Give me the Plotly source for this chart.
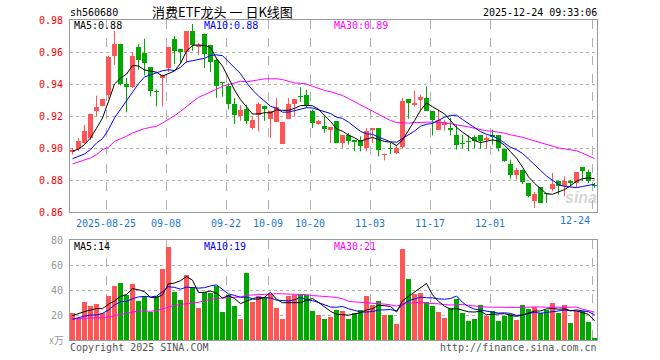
import plotly.graph_objects as go

# ---------------- data ----------------
opens = [0.8975, 0.8996, 0.9033, 0.9063, 0.9233, 0.9260, 0.9333, 0.9577, 0.9652, 0.9400,
         0.9381, 0.9629, 0.9594, 0.9504, 0.9358, 0.9438, 0.9500, 0.9683, 0.9619, 0.9598,
         0.9729, 0.9631, 0.9715, 0.9646, 0.9548, 0.9410, 0.9385, 0.9275, 0.9198, 0.9246,
         0.9125, 0.9208, 0.9265, 0.9183, 0.9163, 0.9027, 0.9183, 0.9275, 0.9325, 0.9333,
         0.9229, 0.9150, 0.9135, 0.9110, 0.9167, 0.9031, 0.9083, 0.9048, 0.9048, 0.9000,
         0.9115, 0.9125, 0.8954, 0.9000, 0.8969, 0.9004, 0.9306, 0.9267, 0.9302, 0.9313,
         0.9229, 0.9115, 0.9142, 0.9125, 0.9083, 0.9031, 0.9046, 0.9067, 0.9079, 0.9052,
         0.9079, 0.9079, 0.8996, 0.8900, 0.8833, 0.8865, 0.8781, 0.8667, 0.8754, 0.8717,
         0.8746, 0.8796, 0.8760, 0.8796, 0.8781, 0.8881, 0.8850, 0.8771]
highs = [0.9000, 0.9063, 0.9146, 0.9215, 0.9327, 0.9308, 0.9577, 0.9733, 0.9652, 0.9438,
         0.9600, 0.9650, 0.9683, 0.9504, 0.9365, 0.9458, 0.9633, 0.9700, 0.9619, 0.9729,
         0.9775, 0.9656, 0.9715, 0.9646, 0.9563, 0.9410, 0.9406, 0.9313, 0.9267, 0.9271,
         0.9198, 0.9285, 0.9265, 0.9233, 0.9313, 0.9163, 0.9313, 0.9308, 0.9379, 0.9365,
         0.9240, 0.9177, 0.9198, 0.9129, 0.9167, 0.9079, 0.9094, 0.9048, 0.9073, 0.9125,
         0.9125, 0.9125, 0.8965, 0.9031, 0.9021, 0.9313, 0.9306, 0.9358, 0.9333, 0.9385,
         0.9229, 0.9240, 0.9177, 0.9188, 0.9146, 0.9083, 0.9079, 0.9079, 0.9079, 0.9079,
         0.9115, 0.9079, 0.8996, 0.8927, 0.8875, 0.8865, 0.8781, 0.8725, 0.8754, 0.8717,
         0.8844, 0.8796, 0.8823, 0.8802, 0.8850, 0.8881, 0.8865, 0.8781]
lows = [0.8960, 0.8980, 0.9025, 0.9050, 0.9198, 0.9260, 0.9310, 0.9520, 0.9390, 0.9223,
        0.9375, 0.9490, 0.9454, 0.9323, 0.9260, 0.9260, 0.9475, 0.9525, 0.9525, 0.9531,
        0.9608, 0.9580, 0.9500, 0.9475, 0.9313, 0.9320, 0.9240, 0.9150, 0.9170, 0.9150,
        0.9115, 0.9104, 0.9170, 0.9063, 0.9163, 0.9025, 0.9183, 0.9200, 0.9288, 0.9250,
        0.9125, 0.9146, 0.9094, 0.9031, 0.9030, 0.9000, 0.9021, 0.8979, 0.8979, 0.8979,
        0.9031, 0.8948, 0.8923, 0.8963, 0.8963, 0.9000, 0.9183, 0.9260, 0.9229, 0.9233,
        0.9079, 0.9115, 0.9108, 0.9079, 0.8990, 0.8996, 0.8979, 0.9000, 0.8996, 0.8996,
        0.9021, 0.8979, 0.8913, 0.8808, 0.8802, 0.8775, 0.8692, 0.8625, 0.8656, 0.8656,
        0.8729, 0.8708, 0.8698, 0.8760, 0.8750, 0.8796, 0.8781, 0.8752]
closes = [0.8990, 0.9046, 0.9108, 0.9215, 0.9258, 0.9308, 0.9567, 0.9652, 0.9400, 0.9381,
          0.9577, 0.9552, 0.9529, 0.9358, 0.9352, 0.9458, 0.9633, 0.9604, 0.9600, 0.9729,
          0.9642, 0.9646, 0.9585, 0.9538, 0.9385, 0.9406, 0.9275, 0.9208, 0.9235, 0.9167,
          0.9177, 0.9277, 0.9246, 0.9233, 0.9258, 0.9163, 0.9277, 0.9308, 0.9320, 0.9260,
          0.9156, 0.9167, 0.9119, 0.9129, 0.9031, 0.9079, 0.9046, 0.9035, 0.9015, 0.9108,
          0.9125, 0.8990, 0.8965, 0.8996, 0.9000, 0.9296, 0.9281, 0.9281, 0.9317, 0.9233,
          0.9177, 0.9177, 0.9163, 0.9110, 0.9017, 0.9027, 0.9038, 0.9042, 0.9042, 0.9063,
          0.9069, 0.9000, 0.8917, 0.8833, 0.8865, 0.8788, 0.8698, 0.8713, 0.8656, 0.8713,
          0.8775, 0.8760, 0.8796, 0.8779, 0.8850, 0.8854, 0.8792, 0.8763]
volumes = [21.9, 17.3, 30.7, 27.2, 28.8, 21.3, 35.5, 43.2, 45.9, 36.0,
           44.8, 31.2, 35.2, 22.7, 35.2, 56.8, 74.7, 38.4, 32.0, 52.0,
           42.1, 25.9, 38.7, 37.3, 43.2, 22.7, 35.7, 27.2, 16.8, 53.6,
           30.7, 35.2, 34.7, 36.5, 25.9, 16.8, 35.2, 35.7, 35.7, 35.7,
           23.5, 20.0, 16.8, 18.7, 24.0, 23.2, 16.8, 21.3, 24.0, 35.2,
           28.0, 31.2, 20.0, 20.0, 12.8, 72.8, 48.8, 36.8, 37.3, 30.4,
           27.2, 22.7, 17.6, 25.3, 33.1, 21.6, 15.2, 16.8, 28.0, 19.5,
           23.2, 15.2, 19.5, 20.8, 16.0, 28.0, 24.8, 26.1, 21.3, 24.0,
           29.9, 21.9, 27.7, 13.9, 23.2, 23.2, 14.7, 1.9]

# moving-average values at the left edge (they depend on days before the window)
ma5_head = [0.8979, 0.8994, 0.9021, 0.9063]
ma10_head = [0.8933, 0.8948, 0.8963, 0.8990, 0.9031, 0.9058, 0.9115, 0.9188, 0.9240]
ma30_head = [0.8900, 0.8913, 0.8925, 0.8938, 0.8958, 0.8990, 0.9004, 0.9042, 0.9058, 0.9073,
             0.9094, 0.9108, 0.9121, 0.9129, 0.9135, 0.9156, 0.9177, 0.9202, 0.9229, 0.9260,
             0.9288, 0.9317, 0.9333, 0.9350, 0.9371, 0.9385, 0.9396, 0.9408, 0.9417]
vma5_head = [19.5, 21.3, 22.7, 24.0]
vma10_head = [16.5, 18.1, 19.2, 20.0, 20.0, 21.3, 24.0, 28.0, 30.7]
vma30_head = [16.8, 17.3, 17.5, 17.6, 17.6, 17.8, 18.4, 19.7, 20.5, 21.3,
              22.4, 23.2, 23.2, 23.0, 23.5, 25.0, 26.7, 27.7, 28.5, 29.1,
              29.6, 30.1, 31.5, 32.5, 33.2, 33.6, 34.0, 34.1, 34.4]

# legend values as printed on the reference
price_ma_labels = ["0.88", "0.88", "0.89"]
vol_ma_labels = ["14", "19", "21"]

tick_idx = [6, 16, 26, 33, 40, 50, 60, 70, 87]
tick_text = ["2025-08-25", "09-08", "09-22", "10-09", "10-20", "11-03", "11-17", "12-01", "12-24"]
price_ticks = [0.86, 0.88, 0.90, 0.92, 0.94, 0.96, 0.98]
vol_ticks = [20, 40, 60, 80]

symbol = "sh560680"
title = "消费ETF龙头 一 日K线图"
stamp = "2025-12-24 09:33:06"

# ---------------- helpers ----------------
def moving(values, n, head):
    out = list(head)
    for i in range(len(head), len(values)):
        out.append(sum(values[i - n + 1:i + 1]) / n)
    return out

RED = "#ff5555"
GREEN = "#00a800"
MONO = "DejaVu Sans Mono"
W, H = 660, 360
L_PX, R_PX = 70, 597

n = len(closes)
idx = list(range(n))
up = [c >= o for o, c in zip(opens, closes)]
cols = [RED if u else GREEN for u in up]

ma5 = moving(closes, 5, ma5_head)
ma10 = moving(closes, 10, ma10_head)
ma30 = moving(closes, 30, ma30_head)
vma5 = moving(volumes, 5, vma5_head)
vma10 = moving(volumes, 10, vma10_head)
vma30 = moving(volumes, 30, vma30_head)

min_body = 0.0006
body_base = [min(o, c) for o, c in zip(opens, closes)]
body_h = [max(abs(c - o), min_body) for o, c in zip(opens, closes)]

fig = go.Figure()

# wicks
for flag, col in ((True, RED), (False, GREEN)):
    xs, ys = [], []
    for i in idx:
        if up[i] == flag:
            xs += [i, i, None]
            ys += [lows[i], highs[i], None]
    fig.add_trace(go.Scatter(x=xs, y=ys, mode="lines", line=dict(color=col, width=1),
                             xaxis="x", yaxis="y", hoverinfo="skip"))

# bodies
fig.add_trace(go.Bar(x=idx, y=body_h, base=body_base, width=0.83,
                     marker=dict(color=cols, line=dict(width=0)), xaxis="x", yaxis="y"))

# price MAs
for series, col in ((ma30, "#ff00ff"), (ma10, "#0000ff"), (ma5, "#000000")):
    fig.add_trace(go.Scatter(x=idx, y=series, mode="lines", line=dict(color=col, width=1),
                             xaxis="x", yaxis="y"))

# volume bars
fig.add_trace(go.Bar(x=idx, y=volumes, width=0.83,
                     marker=dict(color=cols, line=dict(width=0)), xaxis="x2", yaxis="y2"))
for series, col in ((vma30, "#ff00ff"), (vma10, "#0000ff"), (vma5, "#000000")):
    fig.add_trace(go.Scatter(x=idx, y=series, mode="lines", line=dict(color=col, width=1),
                             xaxis="x2", yaxis="y2"))

half = 0.4167
xrange_ = [-half, n - 1 + half]
grid_x = [t - half for t in tick_idx]
# the last date label is pulled inside the frame, so it is drawn separately
shown_text = tick_text[:-1] + [""]

xcommon = dict(range=xrange_, domain=[L_PX / W, R_PX / W], showgrid=True,
               gridcolor="#b0b0b0", griddash="dash", gridwidth=1, tickvals=grid_x,
               showline=True, mirror=True, linecolor="#9a9a9a", linewidth=1,
               zeroline=False, ticks="", fixedrange=True, automargin=False)

fig.update_layout(
    width=W, height=H, margin=dict(l=0, r=0, t=0, b=0, autoexpand=False),
    paper_bgcolor="white", plot_bgcolor="white", showlegend=False,
    barmode="overlay", bargap=0,
    xaxis=dict(**xcommon, anchor="y", ticktext=shown_text,
               tickfont=dict(family=MONO, size=10, color="#1e78d0"),
               ticklabelstandoff=2),
    xaxis2=dict(**xcommon, anchor="y2", matches="x", showticklabels=False),
    yaxis=dict(domain=[1 - 212 / H, 1 - 20 / H], range=[0.86, 0.98],
               tickvals=price_ticks, ticktext=[f"{v:.2f}" for v in price_ticks],
               tickfont=dict(family=MONO, size=10, color="#ff0000"),
               showgrid=True, gridcolor="#b0b0b0", griddash="dot", gridwidth=1,
               showline=True, mirror=True, linecolor="#9a9a9a", linewidth=1,
               zeroline=False, ticks="", ticklabelstandoff=4, anchor="x",
               automargin=False),
    yaxis2=dict(domain=[1 - 340 / H, 1 - 240 / H], range=[0, 80],
                tickvals=vol_ticks, ticktext=[str(v) for v in vol_ticks],
                tickfont=dict(family=MONO, size=10, color="#999999"),
                showgrid=True, gridcolor="#b0b0b0", griddash="dot", gridwidth=1,
                showline=True, mirror=True, linecolor="#9a9a9a", linewidth=1,
                zeroline=False, ticks="", ticklabelstandoff=4, anchor="x2",
                automargin=False),
)

def px(x, y):
    return x / W, 1 - y / H

def note(text, x, y, color="#000000", size=10, anchor="left", family=MONO, **kw):
    ax, ay = px(x, y)
    fig.add_annotation(text=text, x=ax, y=ay, xref="paper", yref="paper",
                       xanchor=anchor, yanchor="middle", showarrow=False,
                       font=dict(family=family, size=size, color=color), **kw)

note(symbol, 68, 13)
note(title, 222, 11, size=13, anchor="center", family="Noto Sans CJK SC")
note(stamp, 599, 13, anchor="right")

note(tick_text[-1], 592, 220, color="#1e78d0", anchor="right")

note(f"MA5:{price_ma_labels[0]}", 72, 26)
note(f"MA10:{price_ma_labels[1]}", 202, 26, color="#0000ff")
note(f"MA30:{price_ma_labels[2]}", 332, 26, color="#ff00ff")
note(f"MA5:{vol_ma_labels[0]}", 72, 246)
note(f"MA10:{vol_ma_labels[1]}", 202, 246, color="#0000ff")
note(f"MA30:{vol_ma_labels[2]}", 332, 246, color="#ff00ff")

note("x万", 66, 339, color="#999999", anchor="right", family="Noto Sans CJK SC", size=10)
note("Copyright 2025 SINA.COM", 68, 347, color="#555555")
note("http://finance.sina.com.cn", 599, 347, color="#555555", anchor="right")
note("<b><i>sina</i></b>", 581, 197, color="rgba(160,160,160,0.45)", size=16,
     anchor="center", family="Liberation Sans")

fig.write_html("out.html", config={"displayModeBar": False, "staticPlot": True},
               post_script="document.body.style.margin='0';")
